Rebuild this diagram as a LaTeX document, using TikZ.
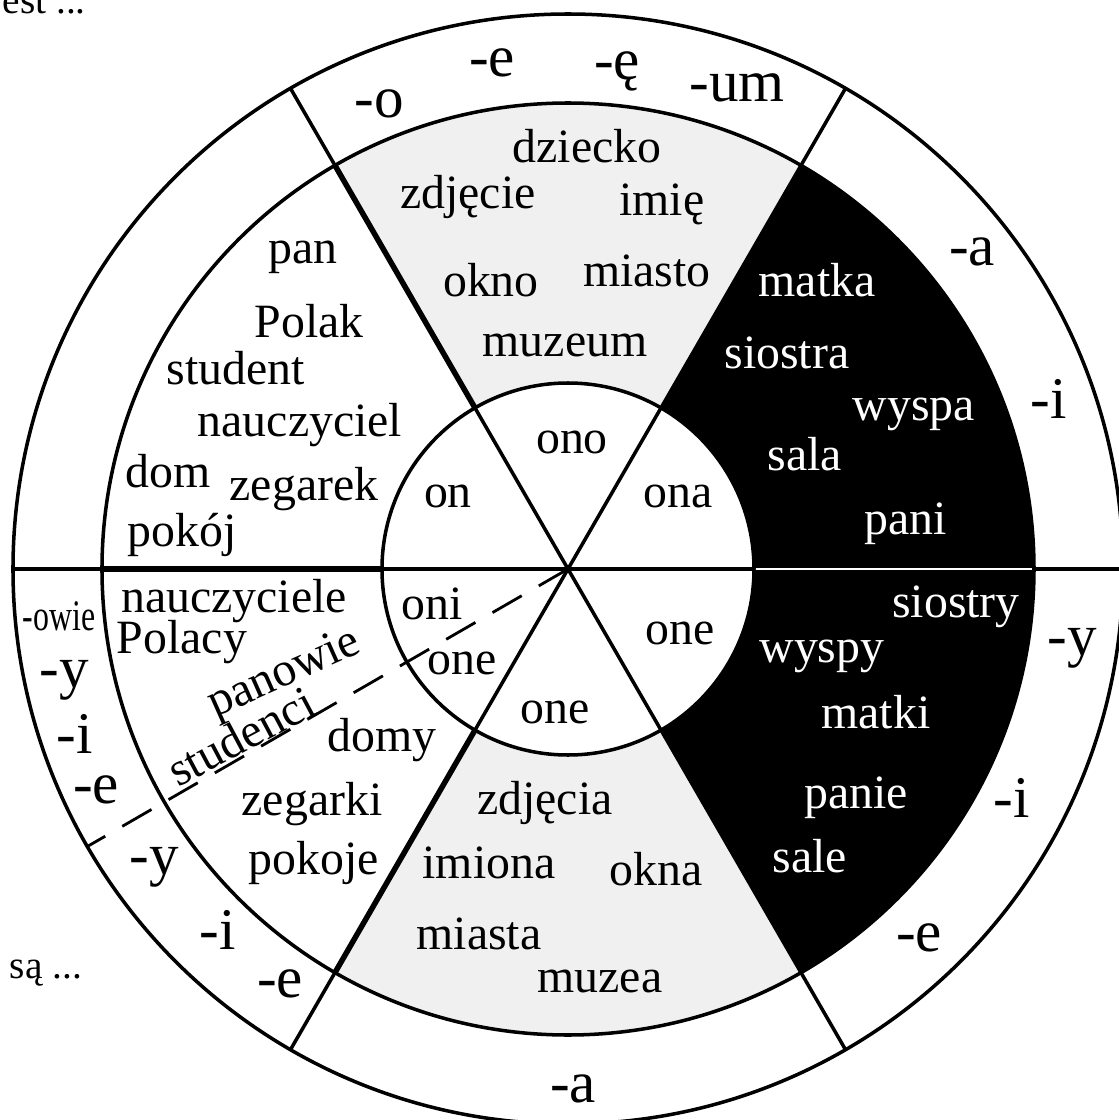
\documentclass[tikz,border=0pt]{standalone}
\usepackage{fontspec}
\setmainfont{Liberation Serif}

\tikzset{
  word/.style={anchor=base,inner sep=0pt,font=\fontsize{34}{40}\selectfont},
  wordw/.style={word,text=white},
  ending/.style={anchor=base,inner sep=0pt,font=\fontsize{42}{48}\selectfont},
  side/.style={anchor=base,inner sep=0pt,font=\fontsize{28}{32}\selectfont},
  ring/.style={line width=2.5pt},
  thickring/.style={line width=3.9pt},
}

\begin{document}
\begin{tikzpicture}[x=0.025cm,y=0.025cm]
\useasboundingbox (-568,-551) rectangle (551,569);
\coordinate (O) at (0,0);
\coordinate (dashend) at (210:555);

% shaded sectors
\fill[black!6] (60:186) arc[start angle=60,end angle=120,radius=186] -- (120:466) arc[start angle=120,end angle=60,radius=466] -- cycle;
\fill[black!6] (240:186) arc[start angle=240,end angle=300,radius=186] -- (300:466) arc[start angle=300,end angle=240,radius=466] -- cycle;

% spokes
\draw[ring] (180:555) -- (0:555);
\draw[ring] (120:555) -- (300:555);
\draw[ring] (60:555) -- (240:555);

\fill[black] (-60:186) arc[start angle=-60,end angle=60,radius=186] -- (60:466) arc[start angle=60,end angle=-60,radius=466] -- cycle;
\draw[white,line width=1.6pt] (0:186) -- (0:466);

\draw[thickring] (120:186) -- (120:466);
\draw[thickring] (180:186) -- (180:466);
\draw[thickring] (240:186) -- (240:466);

% rings
\draw[ring] (O) circle[radius=555];
\draw[ring] (O) circle[radius=466];
\draw[ring] (O) circle[radius=186];

\draw[line width=2pt,dash pattern=on 24pt off 14pt] (O) -- (dashend);

\node[side,anchor=base east] (jest) at (-482,555) {jest ...};
\node[side] (sa) at (-522,-409) {są ...};

% singular
\node[word] (dziecko) at (19,406.5) {dziecko};
\node[word] (zdjecie) at (-100,360) {zdjęcie};
\node[word] (imie) at (94,353) {imię};
\node[word] (okno) at (-77,273) {okno};
\node[word] (miasto) at (79,283) {miasto};
\node[word] (muzeum) at (-3,212) {muzeum};
\node[word] (ono) at (4,116) {ono};

\node[word] (pan) at (-265,305) {pan};
\node[word] (polak) at (-259,231.5) {Polak};
\node[word] (student) at (-332,185) {student};
\node[word] (nauczyciel) at (-268,133) {nauczyciel};
\node[word] (dom) at (-400,81.5) {dom};
\node[word] (zegarek) at (-264,69) {zegarek};
\node[word] (pokoj) at (-386,23) {pokój};
\node[word] (on) at (-120,62) {on};

\node[wordw] (matka) at (249,273) {matka};
\node[wordw] (siostra) at (219,201) {siostra};
\node[wordw] (wyspa) at (346,149) {wyspa};
\node[wordw] (sala) at (237,99) {sala};
\node[wordw] (pani) at (338,35) {pani};
\node[word] (ona) at (110,62) {ona};

% plural
\node[wordw] (siostry) at (388,-48) {siostry};
\node[wordw] (wyspy) at (254,-93) {wyspy};
\node[wordw] (matki) at (308,-159) {matki};
\node[wordw] (panie) at (288,-239) {panie};
\node[wordw] (sale) at (242,-303.5) {sale};
\node[word] (oneR) at (112,-75) {one};

\node[word] (zdjecia) at (-23,-245) {zdjęcia};
\node[word] (imiona) at (-79,-309) {imiona};
\node[word] (okna) at (88,-316) {okna};
\node[word] (miasta) at (-89,-380) {miasta};
\node[word] (muzea) at (32,-423) {muzea};
\node[word] (oneB) at (-13,-154) {one};

\node[word] (nauczyciele) at (-334,-43) {nauczyciele};
\node[word] (polacy) at (-386,-84) {Polacy};
\node[word,anchor=center,rotate=24] (panowie) at (-283,-106) {panowie};
\node[word,anchor=center,rotate=28] (studenci) at (-327,-167) {studenci};
\node[word] (domy) at (-186,-182) {domy};
\node[word] (zegarki) at (-256,-246) {zegarki};
\node[word] (pokoje) at (-254,-305) {pokoje};
\node[word] (oni) at (-136,-50) {oni};
\node[word] (oneL) at (-106,-105) {one};

% endings
\node[ending] (eo) at (-189,451) {-o};
\node[ending] (ee) at (-76,492) {-e};
\node[ending] (eeo) at (49,489) {-ę};
\node[ending] (eum) at (169,467) {-um};
\node[ending] (ea) at (404,303) {-a};
\node[ending] (ei) at (481,151) {-i};
\node[ending] (py) at (504,-86) {-y};
\node[ending] (pi) at (444,-248) {-i};
\node[ending] (pe) at (351,-382) {-e};
\node[ending] (pa) at (5,-533) {-a};
\node[ending] (me) at (-288,-428) {-e};
\node[ending] (mi) at (-350,-380) {-i};
\node[ending] (my) at (-414,-305) {-y};
\node[ending] (mpe) at (-472,-234) {-e};
\node[ending] (mpi) at (-493,-184) {-i};
\node[ending] (mpy) at (-504,-118) {-y};
\node[side,font=\fontsize{31}{34}\selectfont,xscale=0.73] (owie) at (-509,-61) {-owie};
\end{tikzpicture}
\end{document}
